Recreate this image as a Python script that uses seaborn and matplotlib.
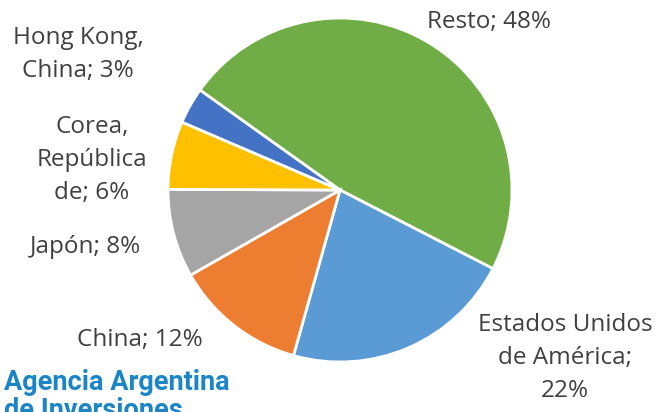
import matplotlib
matplotlib.use("Agg")
import matplotlib.pyplot as plt
import seaborn as sns

# Data
categories = ["Resto", "Estados Unidos\nde América", "China", "Japón",
              "Corea,\nRepública\nde", "Hong Kong,\nChina"]
values = [47.7, 21.8, 12.4, 8.3, 6.4, 3.4]
colors = ["#70AD47", "#5B9BD5", "#ED7D31", "#A5A5A5", "#FFC000", "#4472C4"]

sns.set_theme(style="white")
plt.rcParams['font.family'] = ['Open Sans', 'DejaVu Sans']

W, H = 667, 412
fig = plt.figure(figsize=(W / 100, H / 100), dpi=100)
cx, cy, R = 340, 190, 172
ax = fig.add_axes([(cx - R) / W, (H - cy - R) / H, 2 * R / W, 2 * R / H])
ax.pie(values, colors=colors, startangle=144.5, counterclock=False,
       wedgeprops=dict(edgecolor="white", linewidth=2.0))
ax.set_xlim(-1, 1)
ax.set_ylim(-1, 1)
ax.set_aspect("equal")
ax.axis("off")

# label positions in pixel coords (centre of text block)
label_pos = [(489, 22), (565, 358), (140, 340), (86, 247), (92, 160), (78, 55)]
seps = ["; ", ";\n", "; ", "; ", "; ", "; "]
for cat, v, (px, py), sep in zip(categories, values, label_pos, seps):
    txt = f"{cat}{sep}{v:.0f}%"
    fig.text(px / W, 1 - py / H, txt, ha="center", va="center",
             fontsize=17.5, color="#404040", linespacing=1.5)

fig.text(4 / W, 1 - 369 / H, "Agencia Argentina\nde Inversiones", ha="left", va="top",
         fontsize=19.5, fontweight="bold", color="#1B85C6", linespacing=1.05,
         family=["Roboto", "DejaVu Sans"])

fig.savefig("out.png", dpi=100)
